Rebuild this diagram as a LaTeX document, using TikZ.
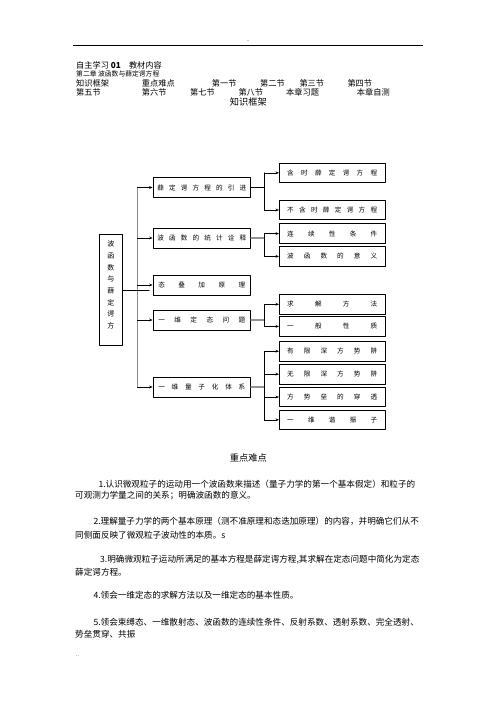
\documentclass[tikz,border=0pt]{standalone}
\usepackage{fontspec}
\newfontfamily\cjk{Noto Sans CJK SC}
\usetikzlibrary{arrows.meta}
\newcommand\spread[2]{\makebox[#1][l]{\foreach \zi [count=\k] in {#2}{\ifnum\k>1 \hfill\fi\zi}}}

\begin{document}
\begin{tikzpicture}[x=1pt,y=-1pt,line cap=round,line join=round,>={Stealth[length=3.4pt,width=2.8pt]},
  every node/.style={inner sep=0pt,font=\cjk},
  nav/.style={anchor=west,font=\cjk\fontsize{8.2}{10}\selectfont},
  head/.style={font=\cjk\fontsize{9.2}{11}\selectfont},
  para/.style={anchor=west,font=\cjk\fontsize{8.6}{10}\selectfont},
  midbox/.style={draw,line width=0.8pt,minimum width=97.7pt,minimum height=20pt,font=\cjk\fontsize{6.6}{8}\selectfont},
  subbox/.style={draw,line width=0.8pt,minimum width=105.7pt,minimum height=19.5pt,font=\cjk\fontsize{6.6}{8}\selectfont},
  trunk/.style={draw=gray!90,line width=1.5pt},
  stem/.style={draw=gray!85,line width=1.3pt},
  link/.style={line width=0.6pt}]
  \useasboundingbox[fill=white] (0,0) rectangle (496,702);
  \node[font=\cjk\fontsize{5}{6}\selectfont] (hdots) at (248,41) {..};
  \draw[line width=0.9pt] (73.3,45.5) -- (422.7,45.5);
  \node[nav] (kicker) at (76,65) {自主学习 \textbf{01}\quad 教材内容};
  \node[anchor=west,font=\cjk\fontsize{6.8}{8}\selectfont] (chapter) at (76,74.3) {第二章 波函数与薛定谔方程};
  \foreach \w/\x [count=\i] in {知识框架/76,重点难点/141.7,第一节/211.7,第二节/260,第三节/299.3,第四节/347.3}
    \node[nav] (navA\i) at (\x,83) {\w};
  \foreach \w/\x [count=\i] in {第五节/76,第六节/141.7,第七节/190,第八节/238.3,本章习题/286,本章自测/356.7}
    \node[nav] (navB\i) at (\x,92.3) {\w};
  \node[head] (kuangjia) at (248.3,101.7) {知识框架};
  \node[draw,line width=0.8pt,minimum width=23pt,minimum height=111pt] (root) at (110.8,289.5) {};
  \node[align=center,font=\cjk\fontsize{7}{11.7}\selectfont] (rootname) at (110.8,285) {波\\函\\数\\与\\薛\\定\\谔\\方};
  \node[midbox] (m1) at (201.8,187.5) {\spread{89pt}{薛,定,谔,方,程,的,引,进}};
  \node[midbox] (m2) at (201.8,238) {\spread{89pt}{波,函,数,的,统,计,诠,释}};
  \node[midbox] (m3) at (201.8,285) {\spread{87pt}{态,叠,加,原,理}};
  \node[midbox] (m4) at (201.8,320) {\spread{87pt}{一,维,定,态,问,题}};
  \node[midbox] (m5) at (201.8,387) {\spread{87pt}{一,维,量,子,化,体,系}};
  \node[subbox] (r1) at (332.2,172.8) {\spread{90pt}{含,时,薛,定,谔,方,程}};
  \node[subbox] (r2) at (332.2,210) {\spread{90pt}{不,含,时,薛,定,谔,方,程}};
  \node[subbox] (r3) at (332.2,233.6) {\spread{90pt}{连,续,性,条,件}};
  \node[subbox] (r4) at (332.2,256.4) {\spread{90pt}{波,函,数,的,意,义}};
  \node[subbox] (r5) at (332.2,304.3) {\spread{90pt}{求,解,方,法}};
  \node[subbox] (r6) at (332.2,326.4) {\spread{90pt}{一,般,性,质}};
  \node[subbox] (r7) at (332.2,351.2) {\spread{90pt}{有,限,深,方,势,阱}};
  \node[subbox] (r8) at (332.2,374.2) {\spread{90pt}{无,限,深,方,势,阱}};
  \node[subbox] (r9) at (332.2,397) {\spread{90pt}{方,势,垒,的,穿,透}};
  \node[subbox] (r10) at (332.2,419.8) {\spread{90pt}{一,维,谐,振,子}};
  \coordinate (tk) at (137.3,0);
  \coordinate (br) at (264.3,0);
  \draw[trunk] (m1.west -| tk) -- (m5.west -| tk);
  \draw[link] (root.east |- m3.west) ++(0,5) -- ++(26.5,0);
  \foreach \m in {m1,m2,m3,m4,m5}
    \draw[link,->] (\m.west -| tk) -- (\m.west);
  \draw[link] (m1.east) -- (m1.east -| br);
  \foreach \m in {m2,m4,m5}
    \draw[stem] (\m.east) -- (\m.east -| br);
  \foreach \a/\b in {r1/r2,r3/r4,r5/r6,r7/r10}
    \draw[link] (\a.west -| br) -- (\b.west -| br);
  \foreach \r in {r1,r2,r3,r4,r5,r6,r7,r8,r9,r10}
    \draw[link,->] (\r.west -| br) -- (\r.west);
  \node[head] (nandian) at (248.3,458.3) {重点难点};
  \node[para] (p1a) at (98.3,484.3) {1.认识微观粒子的运动用一个波函数来描述（量子力学的第一个基本假定）和粒子的};
  \node[para] (p1b) at (75,495.7) {可观测力学量之间的关系；明确波函数的意义。};
  \node[para] (p2a) at (93.3,521) {2.理解量子力学的两个基本原理（测不准原理和态迭加原理）的内容，并明确它们从不};
  \node[para] (p2b) at (75,535) {同侧面反映了微观粒子波动性的本质。s};
  \node[para] (p3a) at (100,560) {3.明确微观粒子运动所满足的基本方程是薛定谔方程,其求解在定态问题中简化为定态};
  \node[para] (p3b) at (75,572.7) {薛定谔方程。};
  \node[para] (p4) at (93.3,595) {4.领会一维定态的求解方法以及一维定态的基本性质。};
  \node[para] (p5a) at (93.3,622.3) {5.领会束缚态、一维散射态、波函数的连续性条件、反射系数、透射系数、完全透射、};
  \node[para] (p5b) at (75,634) {势垒贯穿、共振};
  \node[anchor=west,font=\cjk\fontsize{5}{6}\selectfont] (fdots) at (76,656.7) {..};
\end{tikzpicture}
\end{document}
